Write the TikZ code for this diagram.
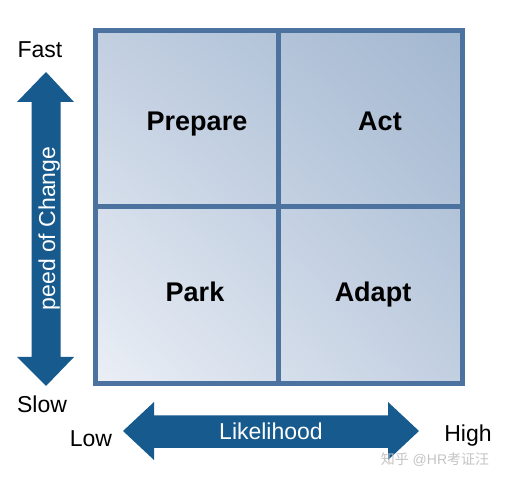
\documentclass[tikz,border=0pt]{standalone}
\usepackage{fontspec}
\setmainfont{Liberation Sans}
\newfontfamily\cjk{Noto Sans CJK SC}
\usetikzlibrary{shadings}
\definecolor{arrowblue}{HTML}{165A8E}
\definecolor{gridblue}{HTML}{4C72A0}
\definecolor{shLL}{HTML}{EBEFF6}
\definecolor{shUR}{HTML}{A2B7D0}
\definecolor{shMID}{HTML}{C2CFE1}
\definecolor{wmgray}{HTML}{C4C4C4}
\begin{document}
\begin{tikzpicture}[x=1pt,y=-1pt,
  axislabel/.style={font=\fontsize{23}{26}\selectfont, text=black, inner sep=0pt, anchor=base},
  quadlabel/.style={font=\fontsize{27}{30}\selectfont\bfseries, text=black, inner sep=0pt, anchor=base},
  arrowtext/.style={font=\fontsize{23}{26}\selectfont, text=white, inner sep=0pt, anchor=base},
  bigarrow/.style={fill=arrowblue, draw=none}]
\useasboundingbox (0,0) rectangle (507,481);
% grid with gradient
\shade[lower left=shLL, upper right=shUR, upper left=shMID, lower right=shMID] (95,384) rectangle (462,30.5);
\draw[gridblue, line width=5pt] (95,30.5) rectangle (462,384);
\draw[gridblue, line width=5pt] (278.5,30.5) -- (278.5,384);
\draw[gridblue, line width=5pt] (95,207) -- (462,207);
% quadrant labels
\node[quadlabel] (prepare) at (197,131) {Prepare};
\node[quadlabel] (act) at (380,131) {Act};
\node[quadlabel] (park) at (195,301.5) {Park};
\node[quadlabel] (adapt) at (373,301.5) {Adapt};
% vertical arrow
\fill[bigarrow] (46,72) -- (74,102) -- (60.5,102) -- (60.5,357) -- (74,357) -- (46,386)
  -- (17,357) -- (31.5,357) -- (31.5,102) -- (17,102) -- cycle;
\node[arrowtext, rotate=90] (speed) at (55,228.5) {peed of Change};
\node[axislabel] (fast) at (40,58) {Fast};
\node[axislabel] (slow) at (42,413) {Slow};
% horizontal arrow
\fill[bigarrow] (123,431) -- (154,402) -- (154,415.5) -- (388,415.5) -- (388,402) -- (419,431)
  -- (388,460) -- (388,448) -- (154,448) -- (154,460) -- cycle;
\node[arrowtext] (likelihood) at (271,440) {Likelihood};
\node[axislabel] (low) at (91,446.5) {Low};
\node[axislabel] (high) at (468,441.5) {High};
% watermark
\node[font=\fontsize{14}{16}\selectfont, text=wmgray, inner sep=0pt] (wm) at (435,460) {{\cjk 知乎} @HR{\cjk 考证汪}};
\end{tikzpicture}
\end{document}
